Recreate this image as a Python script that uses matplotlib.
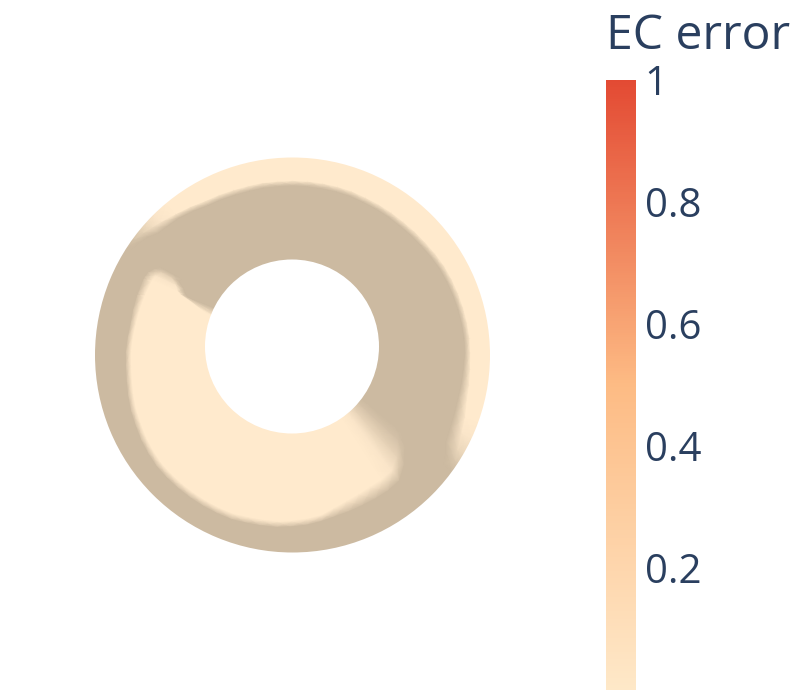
import numpy as np
import matplotlib
matplotlib.use("Agg")
import matplotlib.pyplot as plt
from matplotlib.colors import LinearSegmentedColormap, Normalize
from matplotlib.cm import ScalarMappable
from matplotlib.patches import Wedge, Circle

plt.rcParams['font.family'] = ['Open Sans', 'DejaVu Sans']

# Surface: per angle, the radial span (0 = hole, 1 = rim)
# of the pale low-error area, how fully it shows, and how soft its edge is.
theta_deg = [0, 5, 10, 15, 20, 25, 30, 35, 40, 45, 50, 55, 60, 65, 70, 75, 80, 85, 90, 95,
             100, 105, 110, 115, 120, 125, 130, 135, 138, 141, 144, 147,
             147.5, 149, 151, 153, 154, 159,
             160, 165, 170, 175, 180, 185, 190, 195, 200, 205, 210, 215, 220, 225, 230, 235,
             240, 245, 250, 255, 260, 265, 270, 275, 280, 285, 290, 295, 300, 305, 310, 315, 320,
             323.5,
             324, 327, 330, 335, 340, 345, 350, 355, 360]
pale_lo = [.80, .80, .795, .79, .785, .78, .775, .765, .755, .75, .745, .745, .745, .745, .75,
           .75, .75, .75, .75, .75, .755, .755, .76, .77, .78, .81, .84, .87, .89, .93, .96, .98,
           .45, .45, .38, .34, .30] + [0] * 35 + [
           .95, .92, .88, .85, .83, .81, .805, .80, .80]
pale_hi = [1] * 32 + [
           .60, .64, .67, .68, .68, .68,
           .68, .68, .68, .69, .70, .705, .715, .73, .745, .755, .77, .78, .79, .79, .79, .79,
           .79, .79, .79, .78, .775, .77, .76, .75, .735, .71, .695, .685, .68, .68, .67, .60, .50,
           .40] + [1] * 9
pale_show = [1] * 27 + [.9, .7, .45, .2, 0] + [0, .5, .9] + [1] * 33 + [.9, .5, .15, 0] + [
             0, .3, .6, .9, 1, 1, 1, 1, 1]
edge_soft = [.025] * 27 + [.035, .04, .03, .025, .02] + [.04] * 5 + [.035, .035, .03] + [.025] * 23 + [
             .035, .045, .05, .055, .055, .055, .05, .05, .05] + [
             .04, .05, .06, .055, .05, .04, .035, .03, .025]

cbar_ticks = [0.2, 0.4, 0.6, 0.8, 1]
cbar_labels = ['0.2', '0.4', '0.6', '0.8', '1']
cbar_title = 'EC error'
scale_colors = ['#fee8c8', '#fdbb84', '#e34a33']
surface_colors = ['#ccbaa1', '#ffeacd']
TEXT = '#2a3f5f'

fig = plt.figure(figsize=(8, 7), dpi=100, facecolor='white')
ax = fig.add_axes([0, 0, 1, 1])
ax.set_xlim(0, 800)
ax.set_ylim(700, 0)
ax.axis('off')

# view geometry in pixels: the ring is seen slightly tilted, so hole and rim are off-centre
R_IN, R_OUT = 87.0, 197.5
CX_IN, CY_IN, CX_OUT, CY_OUT = 292.0, 346.5, 292.5, 355.0
OVER = 0.05

th = np.deg2rad(np.array(theta_deg, dtype=float))
lo = np.array(pale_lo, dtype=float)
hi = np.array(pale_hi, dtype=float)
show = np.array(pale_show, dtype=float)
soft = np.array(edge_soft, dtype=float)

s = np.column_stack([
    np.full_like(lo, -OVER),
    np.where(lo <= 0, -OVER, lo - soft),
    np.where(lo <= 0, soft, np.minimum(lo + soft, 1.0)),
    np.where(hi >= 1, 1.0, hi - soft),
    np.where(hi >= 1, 1.02, hi + soft),
    np.full_like(lo, 1 + OVER),
])
flag = np.column_stack([
    (lo <= 0).astype(float), (lo <= 0).astype(float),
    np.ones_like(lo), np.ones_like(lo),
    (hi >= 1).astype(float), (hi >= 1).astype(float),
])
val = flag * show[:, None]

r = R_IN + (R_OUT - R_IN) * s
cx = CX_IN + (CX_OUT - CX_IN) * s
cy = CY_IN + (CY_OUT - CY_IN) * s
X = cx + r * np.cos(th)[:, None]
Y = cy - r * np.sin(th)[:, None]

surf_cmap = LinearSegmentedColormap.from_list('surf', surface_colors)
ax.pcolormesh(X, Y, val, shading='gouraud', cmap=surf_cmap, vmin=0, vmax=1, zorder=1)

# clean, smooth ring edges
ax.add_patch(Wedge((CX_OUT, CY_OUT), 700, 0, 360, width=700 - R_OUT,
                   facecolor='white', edgecolor='none', zorder=2))
ax.add_patch(Circle((CX_IN, CY_IN), R_IN, facecolor='white', edgecolor='none', zorder=2))

# colour bar
cax = fig.add_axes([606 / 800, (700 - 690) / 700, 30 / 800, 610 / 700])
scale_cmap = LinearSegmentedColormap.from_list('scale', scale_colors)
cb = fig.colorbar(ScalarMappable(norm=Normalize(0, 1), cmap=scale_cmap), cax=cax,
                  ticks=cbar_ticks)
cb.outline.set_visible(False)
cb.ax.set_yticklabels(cbar_labels)
cb.ax.tick_params(length=0, pad=6.2, labelsize=29, labelcolor=TEXT)

ax.text(606, 49, cbar_title, fontsize=34.7, color=TEXT, ha='left', va='baseline', zorder=3)

fig.savefig('out.png', dpi=100, facecolor='white')
